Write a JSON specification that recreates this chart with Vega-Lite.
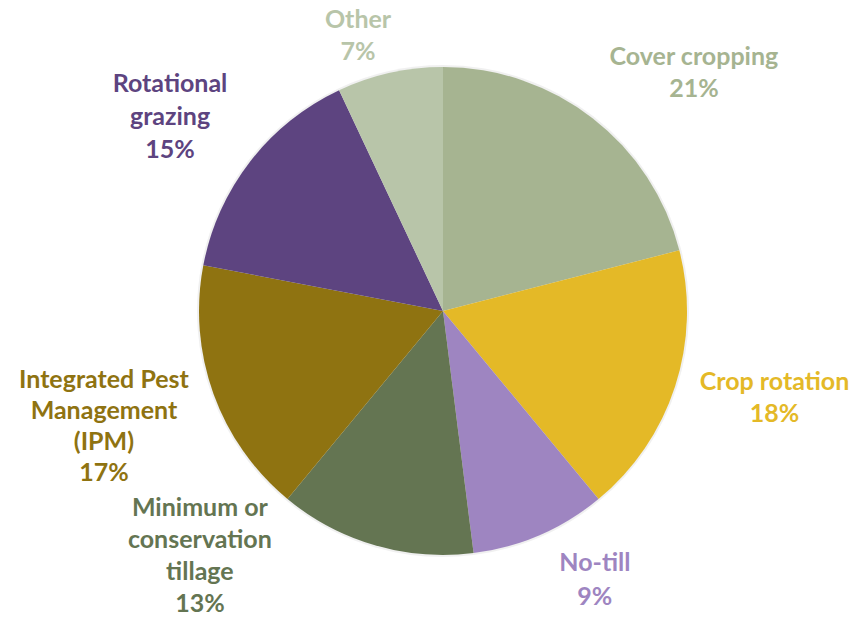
{
  "$schema": "https://vega.github.io/schema/vega-lite/v6.json",
  "width": 826,
  "height": 616,
  "autosize": {"type": "none"},
  "padding": {"left": 30, "top": 3, "right": 0, "bottom": 0},
  "background": "white",
  "view": {"stroke": null},
  "data": {
    "values": [
      {"rank": 1, "practice": "Cover cropping", "pct": 21, "label": "Cover cropping\n21%"},
      {"rank": 2, "practice": "Crop rotation", "pct": 18, "label": "Crop rotation\n18%"},
      {"rank": 3, "practice": "No-till", "pct": 9, "label": "No-till\n9%"},
      {"rank": 4, "practice": "Minimum or conservation tillage", "pct": 13, "label": "Minimum or\nconservation\ntillage\n13%"},
      {"rank": 5, "practice": "Integrated Pest Management (IPM)", "pct": 17, "label": "Integrated Pest\nManagement\n(IPM)\n17%"},
      {"rank": 6, "practice": "Rotational grazing", "pct": 15, "label": "Rotational\ngrazing\n15%"},
      {"rank": 7, "practice": "Other", "pct": 7, "label": "Other\n7%"}
    ]
  },
  "encoding": {
    "theta": {"field": "pct", "type": "quantitative", "stack": true},
    "order": {"field": "rank", "type": "quantitative"},
    "color": {
      "field": "practice",
      "type": "nominal",
      "legend": null,
      "scale": {
        "domain": ["Cover cropping", "Crop rotation", "No-till", "Minimum or conservation tillage", "Integrated Pest Management (IPM)", "Rotational grazing", "Other"],
        "range": ["#A6B491", "#E4B927", "#9E85C1", "#647552", "#8F7311", "#5D4480", "#B8C5A9"]
      }
    }
  },
  "layer": [
    {
      "mark": {"type": "arc", "outerRadius": 246, "opacity": 0.06},
      "encoding": {"color": {"value": "#000000"}}
    },
    {
      "mark": {"type": "arc", "outerRadius": 244}
    },
    {
      "mark": {"type": "text", "font": "Lato", "fontWeight": "bold", "fontSize": 25, "lineBreak": "\n", "lineHeight": 32, "baseline": "middle", "thetaOffset": 0.1197},
      "encoding": {
        "radius": {"value": 357},
        "text": {"condition": {"test": "datum.rank == 1", "field": "label"}, "value": ""}
      }
    },
    {
      "mark": {"type": "text", "font": "Lato", "fontWeight": "bold", "fontSize": 25, "lineBreak": "\n", "lineHeight": 32, "baseline": "middle", "thetaOffset": -0.1035},
      "encoding": {
        "radius": {"value": 339},
        "text": {"condition": {"test": "datum.rank == 2", "field": "label"}, "value": ""}
      }
    },
    {
      "mark": {"type": "text", "font": "Lato", "fontWeight": "bold", "fontSize": 25, "lineBreak": "\n", "lineHeight": 34, "baseline": "middle", "thetaOffset": -0.1344},
      "encoding": {
        "radius": {"value": 294},
        "text": {"condition": {"test": "datum.rank == 3", "field": "label"}, "value": ""}
      }
    },
    {
      "mark": {"type": "text", "font": "Lato", "fontWeight": "bold", "fontSize": 25, "lineBreak": "\n", "lineHeight": 32, "baseline": "middle", "thetaOffset": 0.6067},
      "encoding": {
        "radius": {"value": 313},
        "text": {"condition": {"test": "datum.rank == 4", "field": "label"}, "value": ""}
      }
    },
    {
      "mark": {"type": "text", "font": "Lato", "fontWeight": "bold", "fontSize": 25, "lineBreak": "\n", "lineHeight": 31, "baseline": "middle", "thetaOffset": 0.1449},
      "encoding": {
        "radius": {"value": 346},
        "text": {"condition": {"test": "datum.rank == 5", "field": "label"}, "value": ""}
      }
    },
    {
      "mark": {"type": "text", "font": "Lato", "fontWeight": "bold", "fontSize": 25, "lineBreak": "\n", "lineHeight": 33, "baseline": "middle", "thetaOffset": 0.0339},
      "encoding": {
        "radius": {"value": 355},
        "text": {"condition": {"test": "datum.rank == 6", "field": "label"}, "value": ""}
      }
    },
    {
      "mark": {"type": "text", "font": "Lato", "fontWeight": "bold", "fontSize": 25, "lineBreak": "\n", "lineHeight": 32, "baseline": "middle", "thetaOffset": -0.0642},
      "encoding": {
        "radius": {"value": 303},
        "text": {"condition": {"test": "datum.rank == 7", "field": "label"}, "value": ""}
      }
    }
  ]
}
